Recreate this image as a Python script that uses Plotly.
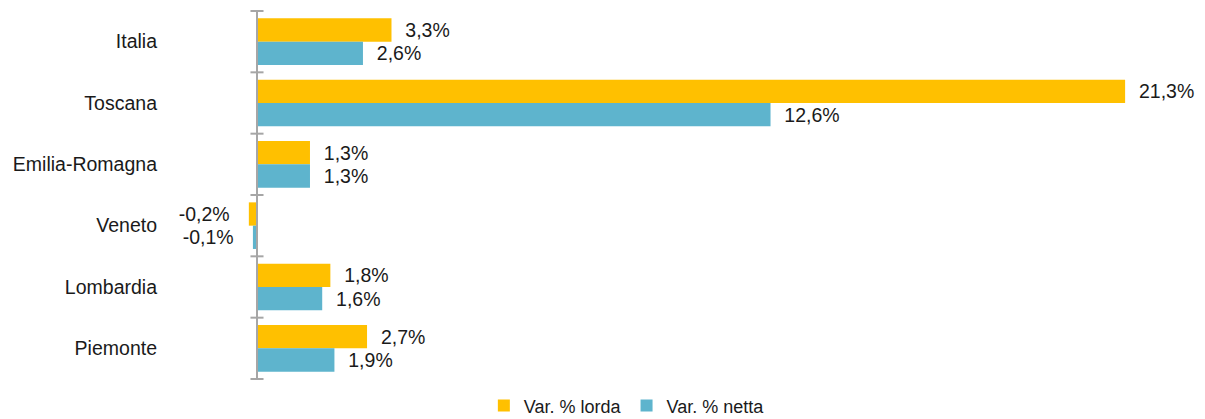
import plotly.graph_objects as go

categories = ["Italia", "Toscana", "Emilia-Romagna", "Veneto", "Lombardia", "Piemonte"]
lorda = [3.3, 21.3, 1.3, -0.2, 1.8, 2.7]
netta = [2.6, 12.6, 1.3, -0.1, 1.6, 1.9]
series_names = ["Var. % lorda", "Var. % netta"]
colors = ["#FFC000", "#5EB4CD"]

NB = "\u00a0"
FONT = "Liberation Sans, Arial, sans-serif"


def labels(vals):
    out = []
    for v in vals:
        s = f"{v:.1f}".replace(".", ",") + "%"
        out.append(s + NB * 3 if v < 0 else NB * 2 + s)
    return out


fig = go.Figure()
for name, vals, col in zip(series_names, [lorda, netta], colors):
    fig.add_trace(go.Bar(
        y=categories, x=vals, name=name, orientation="h",
        marker=dict(color=col, line=dict(width=0)),
        text=labels(vals), textposition="outside", cliponaxis=False,
        constraintext="none",
        textfont=dict(family=FONT, size=19.5, color="#1a1a1a"),
    ))

# axis line at zero with crossing ticks at category boundaries
n = len(categories)
shapes = [dict(type="line", xref="x", yref="y", x0=0, x1=0, y0=-0.5, y1=n - 0.5,
               line=dict(color="#A6A6A6", width=2))]
for i in range(n + 1):
    shapes.append(dict(type="line", xref="x", yref="y", x0=-0.16, x1=0.16,
                       y0=i - 0.5, y1=i - 0.5, line=dict(color="#A6A6A6", width=2)))

fig.update_layout(
    width=1197, height=411,
    margin=dict(l=232, r=75, t=2, b=39, autoexpand=False),
    paper_bgcolor="white", plot_bgcolor="white",
    barmode="group", bargap=0.24, bargroupgap=0,
    separators=",.",
    font=dict(family=FONT, size=19.5, color="#1a1a1a"),
    xaxis=dict(range=[-0.417, 21.42], visible=False, showgrid=False, zeroline=False,
               automargin=False),
    yaxis=dict(autorange="reversed", showgrid=False, zeroline=False, showline=False,
               ticks="", ticklabelstandoff=82, tickfont=dict(size=19.5), automargin=False),
    shapes=shapes,
    showlegend=True,
    legend=dict(orientation="h", xref="container", yref="container",
                x=0.517, xanchor="center", y=0.032, yanchor="middle",
                font=dict(size=18), itemwidth=30, traceorder="normal"),
)

fig.write_html("out.html")
